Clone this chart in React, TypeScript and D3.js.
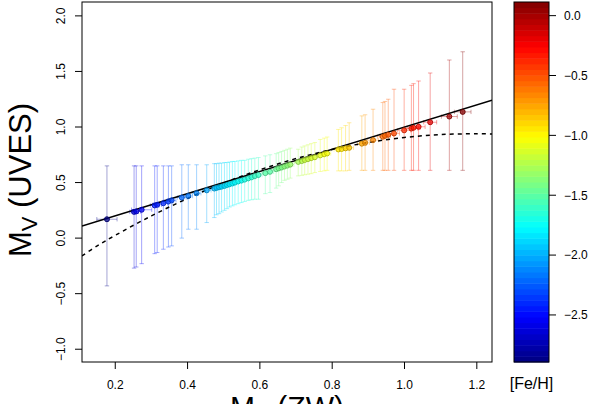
import React from 'react';
import * as d3 from 'd3';

// ---- data ----
const xTicks = [0.2, 0.4, 0.6, 0.8, 1.0, 1.2];
const yTicks = [-1.0, -0.5, 0.0, 0.5, 1.0, 1.5, 2.0];
const fehTicks = [0.0, -0.5, -1.0, -1.5, -2.0, -2.5];

const mvZW = [0.177, 0.252, 0.258, 0.273, 0.309, 0.316, 0.333, 0.347, 0.356, 0.384, 0.402, 0.425, 0.453,
  0.474, 0.480, 0.487, 0.494, 0.502, 0.509, 0.516, 0.524, 0.531, 0.540, 0.549, 0.558, 0.568, 0.577, 0.586, 0.596,
  0.615, 0.628, 0.645, 0.652, 0.660, 0.668, 0.676, 0.684, 0.706, 0.716, 0.724, 0.733, 0.742, 0.752,
  0.767, 0.778, 0.786, 0.817, 0.826, 0.837, 0.847, 0.882, 0.891, 0.913, 0.940, 0.946, 0.955, 0.971,
  0.999, 1.019, 1.025, 1.039, 1.071, 1.124, 1.161];
const mvUVES = [0.170, 0.236, 0.240, 0.255, 0.294, 0.300, 0.314, 0.329, 0.340, 0.365, 0.379, 0.404, 0.430,
  0.446, 0.452, 0.458, 0.463, 0.470, 0.478, 0.485, 0.492, 0.500, 0.510, 0.518, 0.527, 0.538, 0.548, 0.558, 0.568,
  0.585, 0.597, 0.620, 0.628, 0.636, 0.645, 0.653, 0.662, 0.686, 0.694, 0.703, 0.711, 0.720, 0.728,
  0.745, 0.755, 0.762, 0.798, 0.802, 0.808, 0.813, 0.850, 0.858, 0.882, 0.912, 0.920, 0.930, 0.942,
  0.970, 0.986, 0.993, 1.002, 1.043, 1.094, 1.136];
const errLo = [-0.43, -0.27, -0.26, -0.23, -0.14, -0.13, -0.10, -0.08, -0.07, 0.00, 0.08, 0.08, 0.14,
  0.185, 0.21, 0.22, 0.235, 0.25, 0.265, 0.28, 0.29, 0.30, 0.31, 0.32, 0.33, 0.34, 0.345, 0.35, 0.35,
  0.40, 0.41, 0.45, 0.47, 0.50, 0.52, 0.53, 0.54, 0.56, 0.565, 0.57, 0.575, 0.58, 0.59,
  0.60, 0.605, 0.61, 0.605, 0.605, 0.605, 0.61, 0.61, 0.61, 0.61, 0.61, 0.61, 0.61, 0.61,
  0.61, 0.61, 0.61, 0.61, 0.61, 0.61, 0.61];
const errHi = [0.65, 0.65, 0.65, 0.65, 0.65, 0.65, 0.65, 0.65, 0.65, 0.66, 0.66, 0.66, 0.66,
  0.67, 0.67, 0.675, 0.675, 0.68, 0.68, 0.685, 0.69, 0.69, 0.695, 0.70, 0.70, 0.71, 0.715, 0.72, 0.725,
  0.74, 0.75, 0.76, 0.77, 0.78, 0.79, 0.80, 0.81, 0.80, 0.82, 0.83, 0.84, 0.85, 0.86,
  0.888, 0.90, 0.91, 0.978, 0.993, 1.013, 1.038, 1.10, 1.11, 1.16, 1.22, 1.23, 1.25, 1.34,
  1.34, 1.375, 1.39, 1.414, 1.486, 1.603, 1.677];
const xErr = [0.028, 0.012, 0.012, 0.028, 0.012, 0.012, 0.012, 0.012, 0.012, 0.012, 0.012, 0.012, 0.012,
  0.01, 0.01, 0.01, 0.01, 0.01, 0.01, 0.01, 0.01, 0.01, 0.01, 0.01, 0.01, 0.01, 0.01, 0.01, 0.01,
  0.01, 0.01, 0.01, 0.01, 0.01, 0.01, 0.01, 0.01, 0.01, 0.01, 0.01, 0.01, 0.01, 0.012,
  0.01, 0.01, 0.01, 0.012, 0.012, 0.012, 0.012, 0.012, 0.012, 0.015, 0.015, 0.015, 0.015, 0.015,
  0.018, 0.018, 0.018, 0.018, 0.018, 0.022, 0.023];
const feh = [-2.85, -2.62, -2.60, -2.56, -2.45, -2.43, -2.38, -2.34, -2.31, -2.22, -2.17, -2.10, -2.02,
  -1.96, -1.94, -1.92, -1.90, -1.87, -1.85, -1.83, -1.81, -1.79, -1.76, -1.73, -1.70, -1.67, -1.64, -1.62, -1.59,
  -1.53, -1.49, -1.44, -1.42, -1.40, -1.37, -1.35, -1.33, -1.26, -1.23, -1.20, -1.18, -1.15, -1.12,
  -1.08, -1.05, -1.03, -0.94, -0.92, -0.89, -0.86, -0.74, -0.72, -0.66, -0.57, -0.55, -0.53, -0.48,
  -0.40, -0.34, -0.32, -0.28, -0.18, -0.02, 0.08];

// one-to-one line and the dashed fit
const lineX = [0.108, 1.242];
const lineY = [0.108, 1.242];
const fitX = [0.108, 0.15, 0.2, 0.3, 0.4, 0.5, 0.6, 0.7, 0.8, 0.9, 1.0, 1.1, 1.2, 1.242];
const fitY = [-0.16, -0.07, 0.025, 0.20, 0.357, 0.496, 0.615, 0.716, 0.798, 0.861, 0.906, 0.932, 0.939, 0.937];

const fehRange = [-2.893, 0.114];

// ---- layout ----
const W = 598, H = 404;
const PL = 82, PR = 492, PT = 2, PB = 362;
const CBL = 514, CBR = 549, CBT = 2, CBB = 362;
const FONT = 'Liberation Sans, Arial, Helvetica, sans-serif';
const NCOL = 64;

function jet(t: number): string {
  const c = (v: number) => Math.max(0, Math.min(1, v));
  const r = c(1.5 - Math.abs(4 * t - 3));
  const g = c(1.5 - Math.abs(4 * t - 2));
  const b = c(1.5 - Math.abs(4 * t - 1));
  return d3.rgb(r * 255, g * 255, b * 255).formatHex();
}
function colorFor(v: number): string {
  const t = (v - fehRange[0]) / (fehRange[1] - fehRange[0]);
  const idx = Math.max(0, Math.min(NCOL - 1, Math.floor(t * NCOL)));
  return jet((idx + 0.5) / NCOL);
}
const fmt = (v: number) => v.toFixed(1).replace('-', '\u2212');

export default function App() {
  const x = d3.scaleLinear().domain([0.108, 1.242]).range([PL, PR]);
  const y = d3.scaleLinear().domain([-1.115, 2.125]).range([PB, PT]);
  const cy = d3.scaleLinear().domain(fehRange).range([CBB, CBT]);

  const pts = mvZW.map((v, i) => ({ x: v, y: mvUVES[i], lo: errLo[i], hi: errHi[i], xe: xErr[i], f: feh[i] }));
  const idLine = d3.line<number>().x((d, i) => x(lineX[i])).y((d, i) => y(lineY[i]));
  const fitLine = d3.line<number>().x((d, i) => x(fitX[i])).y((d, i) => y(fitY[i])).curve(d3.curveCatmullRom);

  const bands = d3.range(NCOL).map(i => {
    const v0 = fehRange[0] + (i / NCOL) * (fehRange[1] - fehRange[0]);
    const v1 = fehRange[0] + ((i + 1) / NCOL) * (fehRange[1] - fehRange[0]);
    return { y0: cy(v1), y1: cy(v0), c: jet((i + 0.5) / NCOL) };
  });

  const cap = 2.2;
  return (
    <svg width={W} height={H} style={{ position: 'absolute', left: 0, top: 0, background: '#fff' }} fontFamily={FONT}>
      <defs>
        <clipPath id="plotclip"><rect x={PL} y={PT} width={PR - PL} height={PB - PT} /></clipPath>
      </defs>
      <g clipPath="url(#plotclip)">
        {pts.map((p, i) => {
          const c = colorFor(p.f);
          const px = x(p.x), py = y(p.y);
          return (
            <g key={'e' + i} stroke={c} strokeOpacity={0.36} strokeWidth={1}>
              <line x1={px} x2={px} y1={y(p.lo)} y2={y(p.hi)} />
              <line x1={px - cap} x2={px + cap} y1={y(p.lo)} y2={y(p.lo)} />
              <line x1={px - cap} x2={px + cap} y1={y(p.hi)} y2={y(p.hi)} />
              <line x1={x(p.x - p.xe)} x2={x(p.x + p.xe)} y1={py} y2={py} />
              <line x1={x(p.x - p.xe)} x2={x(p.x - p.xe)} y1={py - cap} y2={py + cap} />
              <line x1={x(p.x + p.xe)} x2={x(p.x + p.xe)} y1={py - cap} y2={py + cap} />
            </g>
          );
        })}
        <path d={idLine(lineX) || ''} fill="none" stroke="#000" strokeWidth={1.5} />
        <path d={fitLine(fitX) || ''} fill="none" stroke="#000" strokeWidth={1.5} strokeDasharray="4,4" />
        {pts.map((p, i) => {
          const c = colorFor(p.f);
          return <circle key={'p' + i} cx={x(p.x)} cy={y(p.y)} r={2.5} fill={c} fillOpacity={0.7}
            stroke={d3.color(c)!.darker(0.8).formatHex()} strokeWidth={0.9} />;
        })}
      </g>
      <rect x={PL} y={PT} width={PR - PL} height={PB - PT} fill="none" stroke="#000" strokeWidth={1} />
      {/* x axis */}
      {xTicks.map(t => (
        <g key={'xt' + t}>
          <line x1={x(t)} x2={x(t)} y1={PB} y2={PB + 7} stroke="#000" />
          <text x={x(t)} y={389} fontSize={12} textAnchor="middle">{t.toFixed(1)}</text>
        </g>
      ))}
      {/* y axis */}
      {yTicks.map(t => (
        <g key={'yt' + t}>
          <line x1={PL - 7} x2={PL} y1={y(t)} y2={y(t)} stroke="#000" />
          <text transform={`translate(65,${y(t)}) rotate(-90)`} fontSize={12} textAnchor="middle">{fmt(t)}</text>
        </g>
      ))}
      <text transform={`translate(31,${(PT + PB) / 2 - 2}) rotate(-90)`} fontSize={31} textAnchor="middle">
        M<tspan fontSize={22} dy={6}>V</tspan><tspan dy={-6}> (UVES)</tspan>
      </text>
      <text x={(PL + PR) / 2} y={417} fontSize={30} textAnchor="middle">
        M<tspan fontSize={21} dy={6}>V</tspan><tspan dy={-6}> (ZW)</tspan>
      </text>
      {/* colour bar */}
      {bands.map((b, i) => (
        <rect key={'b' + i} x={CBL} y={b.y0} width={CBR - CBL} height={b.y1 - b.y0 + 0.5} fill={b.c} />
      ))}
      <rect x={CBL} y={CBT} width={CBR - CBL} height={CBB - CBT} fill="none" stroke="#000" strokeWidth={1} />
      {fehTicks.map(t => (
        <g key={'ct' + t}>
          <line x1={CBR} x2={CBR + 7} y1={cy(t)} y2={cy(t)} stroke="#000" />
          <text x={564} y={cy(t) + 4.3} fontSize={12}>{fmt(t)}</text>
        </g>
      ))}
      <text x={(CBL + CBR) / 2} y={389} fontSize={16} textAnchor="middle">[Fe/H]</text>
    </svg>
  );
}
